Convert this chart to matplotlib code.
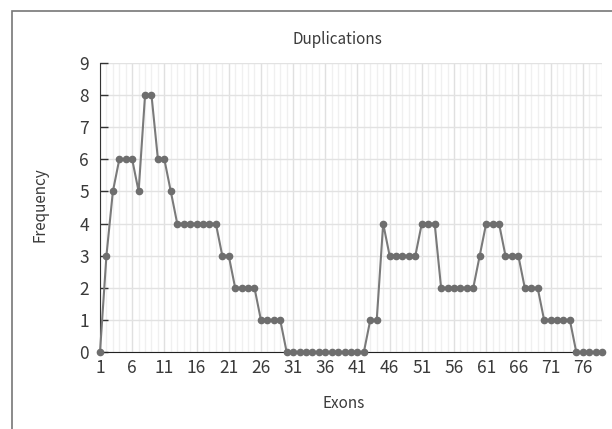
import numpy as np
import matplotlib.pyplot as plt
from matplotlib.patches import Rectangle

plt.rcParams['font.family'] = ['Noto Sans CJK KR', 'DejaVu Sans']

# duplication counts per exon (exons 1..79)
exons = list(range(1, 80))
freq = [0, 3, 5, 6, 6, 6, 5, 8, 8, 6,
        6, 5, 4, 4, 4, 4, 4, 4, 4, 3,
        3, 2, 2, 2, 2, 1, 1, 1, 1, 0,
        0, 0, 0, 0, 0, 0, 0, 0, 0, 0,
        0, 0, 1, 1, 4, 3, 3, 3, 3, 3,
        4, 4, 4, 2, 2, 2, 2, 2, 2, 3,
        4, 4, 4, 3, 3, 3, 2, 2, 2, 1,
        1, 1, 1, 1, 0, 0, 0, 0, 0]
xticks = list(range(1, 80, 5))
yticks = list(range(0, 10))

txt = '#3a3a3a'

fig = plt.figure(figsize=(6.12, 4.29), dpi=100)
ax = fig.add_axes([100/612, 1 - 352/429, 502/612, 289/429])

# outer frame of the chart box (cropped at right/bottom)
fig.patches.append(Rectangle((12/612, -0.1), 1.2, 1 - 11/429 + 0.1,
                             transform=fig.transFigure, fill=False,
                             edgecolor='#777777', lw=1.2))

# grid: light line for each exon, a bit darker every 5
for x in exons:
    c = '#e0e0e0' if x in xticks else '#f0f0f0'
    ax.axvline(x, color=c, lw=1, zorder=0)
for y in yticks:
    ax.axhline(y, color='#e2e2e2', lw=1, zorder=0)

ax.plot(exons, freq, color='#7a7a7a', lw=1.5, marker='o', ms=4.5,
        markerfacecolor='#6e6e6e', markeredgecolor='#6e6e6e', zorder=3,
        clip_on=False)

ax.set_xlim(1, 79)
ax.set_ylim(0, 9)
ax.set_xticks(xticks)
ax.set_yticks(yticks)
ax.tick_params(axis='x', length=0, pad=5, labelsize=12.5, labelcolor=txt)
ax.tick_params(axis='y', direction='in', length=6, width=1, color='#333333',
               pad=8, labelsize=12.5, labelcolor=txt)

for s in ['top', 'right']:
    ax.spines[s].set_visible(False)
ax.spines['left'].set_color('#333333')
ax.spines['bottom'].set_color('#222222')

fig.text(337/612, 1 - 39/429, 'Duplications', ha='center', va='center',
         fontsize=11, color=txt)
fig.text(344/612, 1 - 403/429, 'Exons', ha='center', va='center',
         fontsize=11, color=txt)
fig.text(40/612, 1 - 205/429, 'Frequency', ha='center', va='center',
         rotation=90, fontsize=11, color=txt)

fig.savefig('out.png', dpi=100)
